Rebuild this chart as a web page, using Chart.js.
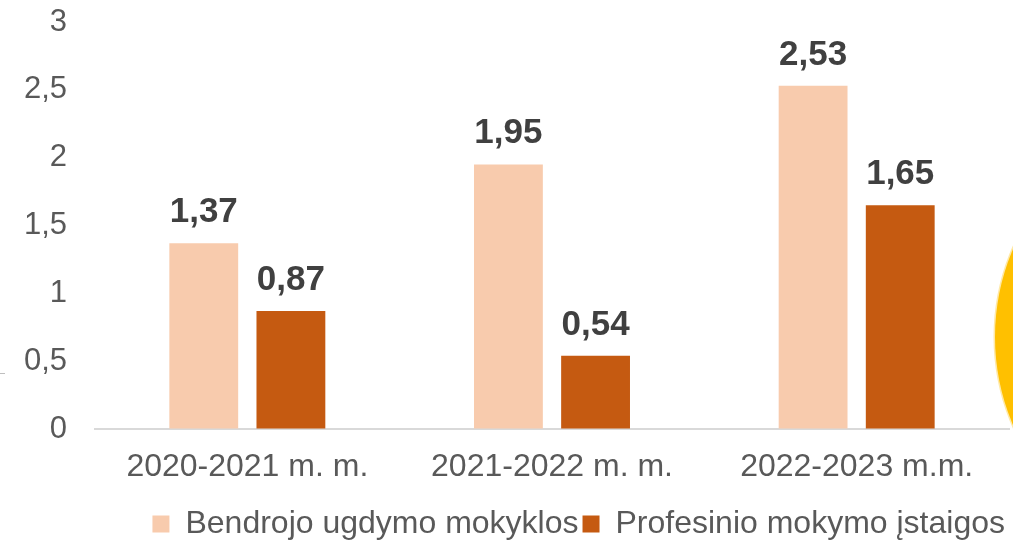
<!DOCTYPE html>
<html><head>
<meta charset="utf-8">
<style>
  html, body { margin: 0; padding: 0; background: #fff; }
  #wrap { width: 1013px; height: 542px; }
</style>
</head>
<body>
<div id="wrap"><canvas id="myChart"></canvas></div>
<script src="https://cdn.jsdelivr.net/npm/chart.js@4/dist/chart.umd.min.js"></script>
<script>
var years = ['2020-2021 m. m.', '2021-2022 m. m.', '2022-2023 m.m.'];
var bendrojo = [1.37, 1.95, 2.53];
var profesinio = [0.87, 0.54, 1.65];
var seriesNames = ['Bendrojo ugdymo mokyklos', 'Profesinio mokymo įstaigos'];
var yTicks = [0, 0.5, 1, 1.5, 2, 2.5, 3];

Chart.defaults.font.family = 'Arial, "Liberation Sans", sans-serif';
Chart.defaults.color = '#595959';

function lt(v) { return String(v).replace('.', ','); }

// numbers over the bars
var valueLabels = {
  id: 'valueLabels',
  afterDatasetsDraw: function(chart) {
    var c = chart.ctx;
    c.save();
    c.font = 'bold 35px Arial, "Liberation Sans", sans-serif';
    c.fillStyle = '#404040';
    c.textAlign = 'center';
    c.textBaseline = 'alphabetic';
    chart.data.datasets.forEach(function(ds, i) {
      chart.getDatasetMeta(i).data.forEach(function(bar, j) {
        c.fillText(lt(ds.data[j]), bar.x, bar.y - 21);
      });
    });
    c.restore();
  }
};

// leftovers of the slide around the chart
var slideBits = {
  id: 'slideBits',
  afterDraw: function(chart) {
    var c = chart.ctx;
    c.save();
    c.beginPath();
    c.arc(1219, 337, 224, 0, Math.PI * 2);
    c.fillStyle = '#FFC000';
    c.fill();
    c.strokeStyle = 'rgba(255,192,0,0.35)';
    c.lineWidth = 3;
    c.stroke();
    c.beginPath();
    c.moveTo(0, 373.5);
    c.lineTo(5, 373.5);
    c.strokeStyle = '#BFBFBF';
    c.lineWidth = 1;
    c.stroke();
    c.restore();
  }
};

var ctx = document.getElementById('myChart');
var myChart = new Chart(ctx, {
  type: 'bar',
  data: {
    labels: years,
    datasets: [{
      label: seriesNames[0],
      data: bendrojo,
      backgroundColor: '#F8CBAD'
    }, {
      label: seriesNames[1],
      data: profesinio,
      backgroundColor: '#C55A11'
    }]
  },
  options: {
    responsive: true,
    maintainAspectRatio: false,
    animation: false,
    categoryPercentage: 0.572,
    barPercentage: 0.79,
    layout: { padding: { left: 0, right: 4, top: 22, bottom: -8 } },
    plugins: {
      tooltip: { enabled: false },
      legend: {
        position: 'bottom',
        align: 'end',
        labels: {
          font: { size: 32 },
          color: '#595959',
          boxWidth: 17,
          boxHeight: 17,
          padding: 4
        }
      }
    },
    scales: {
      x: {
        afterFit: function(axis) { axis.height = 75; },
        grid: { display: false, drawTicks: false },
        border: { color: '#D9D9D9', width: 2 },
        ticks: { font: { size: 32 }, color: '#595959', padding: 19, maxRotation: 0 }
      },
      y: {
        min: 0,
        max: 3,
        afterBuildTicks: function(axis) {
          axis.ticks = yTicks.map(function(v) { return { value: v }; });
        },
        afterFit: function(axis) { axis.width = 95; },
        grid: { color: 'transparent', drawTicks: true, tickLength: 28, tickColor: 'transparent' },
        border: { display: false },
        ticks: {
          font: { size: 31 },
          color: '#595959',
          padding: 0,
          callback: function(v) { return lt(v); }
        }
      }
    }
  },
  plugins: [valueLabels, slideBits]
});
</script>
</body></html>
